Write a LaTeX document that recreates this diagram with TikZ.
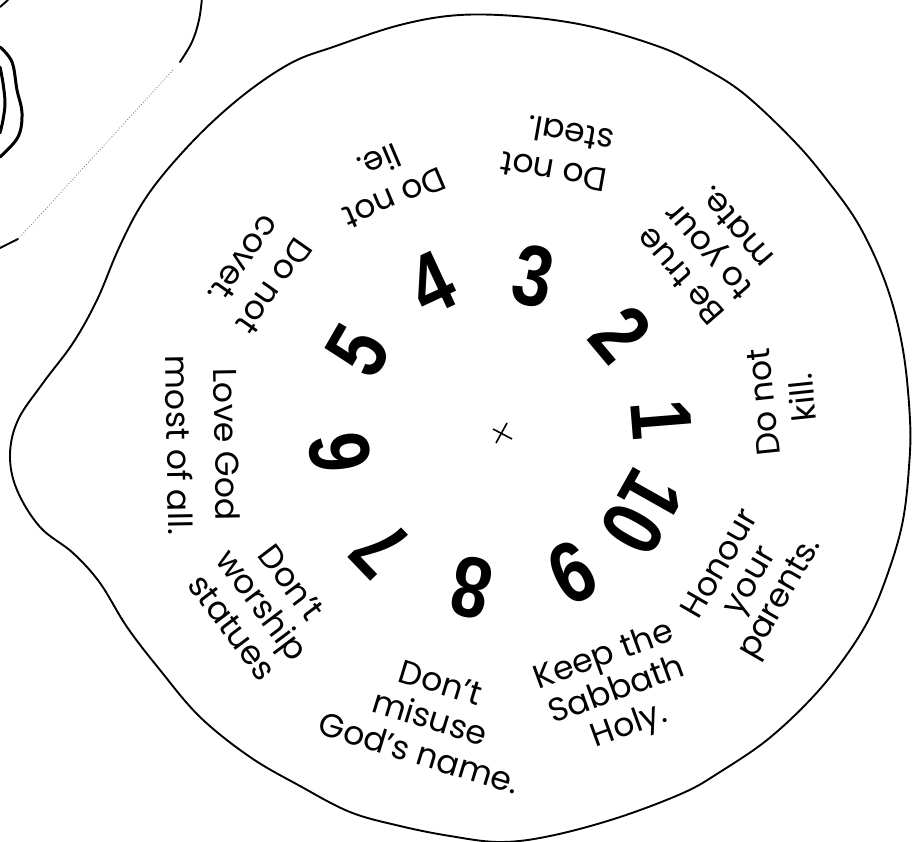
\documentclass[tikz,border=0pt]{standalone}
\usepackage{fontspec}
\setmainfont{Poppins}
\newfontfamily\numfont[FakeStretch=0.82]{Liberation Sans}
\tikzset{
  rim/.style={line width=1.9pt, line join=round, line cap=round},
  thickrim/.style={line width=3pt, line cap=round},
  numlbl/.style={font=\numfont\bfseries\fontsize{86}{86}\selectfont, inner sep=0pt},
  rule/.style={font=\fontsize{33}{40}\selectfont, align=center, inner sep=0pt},
}
\begin{document}
\begin{tikzpicture}[x=1pt,y=-1pt]
\useasboundingbox (0,0) rectangle (922,842);
\clip (0,0) rectangle (922,842);
% big wheel outline
\draw[rim] plot[smooth cycle, tension=0.6] coordinates {
 (10,455) (18,420) (43,383) (73,343) (97,300) (118,250) (140,207) (167,170)
 (207,127) (250,90) (293,62) (333,47) (400,25) (460,15) (527,17) (593,27)
 (660,47) (700,66) (743,93) (793,140) (827,180) (860,227) (887,287) (903,350)
 (910,420) (909,467) (903,520) (890,567) (870,617) (843,660) (810,700) (767,740)
 (720,772) (683,793) (617,818) (550,836) (500,842) (450,836) (400,826) (350,812)
 (300,786) (250,757) (200,717) (160,670) (127,627) (100,583) (73,553) (40,527) (17,490)};
% neighbouring shape at top left
\draw[rim] plot[smooth, tension=0.6] coordinates {(202,-2) (199,20) (192,42) (180,62)};
\draw[line width=0.9pt, gray, dotted] (173,70) -- (20,237);
\draw[rim] (18,239) -- (0,248);
\draw[thickrim] plot[smooth, tension=0.6] coordinates {(0,47) (12,62) (17,90) (22,113) (18,137) (0,157)};
\draw[thickrim] plot[smooth, tension=0.6] coordinates {(0,67) (3,83) (5,103) (3,120) (0,133)};
\draw[rim] (0,7) -- (8,0);
% centre mark
\draw[line width=1.6pt] (493,429) -- (512,439);
\draw[line width=1.6pt] (496,443) -- (507,423);
% numbers
\node[numlbl, rotate=-85.4] (n1) at (662,420) {1};
\node[numlbl, rotate=-50]   (n2) at (621,334) {2};
\node[numlbl, rotate=-11]   (n3) at (533,276) {3};
\node[numlbl, rotate=25]    (n4) at (432,283) {4};
\node[numlbl, rotate=60]    (n5) at (358,351) {5};
\node[numlbl, rotate=96.7]  (n6) at (340,452) {6};
\node[numlbl, rotate=133.8] (n7) at (381,549) {7};
\node[numlbl, rotate=168.7] (n8) at (471,588) {8};
\node[numlbl, rotate=206.6] (n9) at (572,573) {9};
\node[numlbl, rotate=240.6] (n10) at (642,512) {10};
% commandments
\node[rule, rotate=96]  (kill)   at (783,400) {Do not\\kill.};
\node[rule, rotate=131, font=\fontsize{33}{37}\selectfont] (mate) at (708,252) {Be true\\to your\\mate.};
\node[rule, rotate=170, align=left] (steal) at (557,152) {Do not\\steal.};
\node[rule, rotate=203] (lie)    at (387,180) {Do not\\lie.};
\node[rule, rotate=235, align=left] (covet) at (258,275) {Do not\\covet.};
\node[rule, rotate=271, font=\fontsize{33}{48}\selectfont] (love) at (203,445) {Love God\\most of all.};
\node[rule, rotate=307, font=\fontsize{33}{37}\selectfont] (statue) at (262,605) {Don't\\worship\\statues};
\node[rule, rotate=-17, font=\fontsize{33}{37}\selectfont] (name) at (430,718) {Don't\\misuse\\God's name.};
\node[rule, rotate=20, font=\fontsize{33}{37}\selectfont] (sabbath) at (617,692) {Keep the\\Sabbath\\Holy.};
\node[rule, rotate=60, font=\fontsize{33}{34}\selectfont] (honour) at (752,582) {Honour\\your\\parents.};
\end{tikzpicture}
\end{document}
